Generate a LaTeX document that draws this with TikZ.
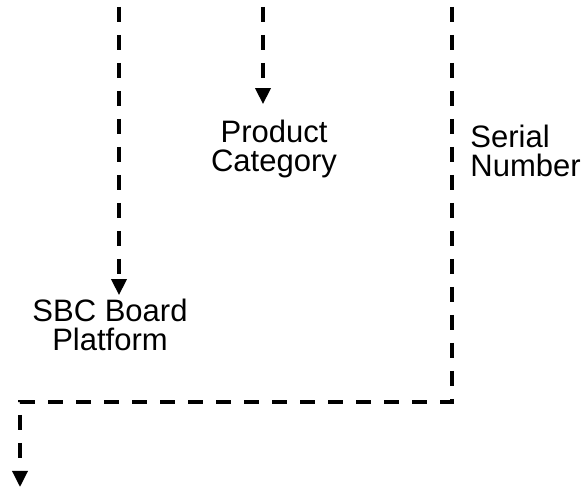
\documentclass[tikz,border=0pt]{standalone}
\usepackage{fontspec}
\setmainfont{Liberation Sans}
\usetikzlibrary{arrows.meta}

\tikzset{
    flow/.style={line width=1.7pt, dash pattern=on 7.5pt off 6.5pt,
        -{Triangle[width=7.5pt, length=8pt]}},
    lbl/.style={font=\fontsize{15.5}{14.5}\selectfont, inner sep=0pt},
}

\begin{document}
\begin{tikzpicture}[x=0.5pt, y=-0.5pt]
        \useasboundingbox (0, 0) rectangle (586, 490);

        % labels
        \node[lbl, align=center, anchor=base, inner ysep=2pt] (sbc) at (110, 351) {SBC Board\\Platform};
        \node[lbl, align=center, anchor=base, inner ysep=8pt] (product) at (274, 172) {Product\\Category};
        \node[lbl, align=left, anchor=base west] (serial) at (470, 177) {Serial\\Number};

        % line ends
        \coordinate (sbctop) at (119, 7);
        \coordinate (producttop) at (263, 7);
        \coordinate (serialtop) at (452, 7);
        \coordinate (serialturn) at (452, 402);
        \coordinate (exitturn) at (20, 402);
        \coordinate (exit) at (20, 487);

        \draw[flow](sbctop)--(sbctop |- sbc.north);
        \draw[flow](producttop)--(producttop |- product.north);
        \draw[flow](serialtop)--(serialturn)--(exitturn)--(exit);
    \end{tikzpicture}
\end{document}
